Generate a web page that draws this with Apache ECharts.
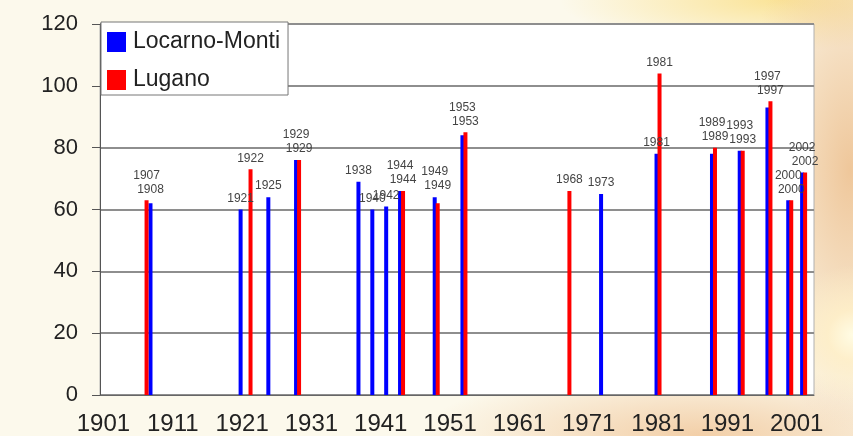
<!DOCTYPE html>
<html>
<head>
<meta charset="utf-8">
<script src="https://cdn.jsdelivr.net/npm/echarts@6/dist/echarts.min.js"></script>
<style>
  html, body { margin: 0; padding: 0; }
  body {
    width: 853px;
    height: 436px;
    background:
      radial-gradient(circle at 853px 335px, rgba(255, 252, 228, 1) 0, rgba(255, 240, 200, 0.8) 25px, rgba(255, 240, 200, 0) 70px),
      radial-gradient(ellipse 110px 260px at 850px 170px, rgba(238, 196, 150, 0.95), rgba(238, 196, 150, 0) 100%),
      radial-gradient(ellipse 280px 70px at 700px 436px, rgba(240, 196, 150, 0.8), rgba(240, 196, 150, 0) 100%),
      radial-gradient(ellipse 220px 50px at 780px 0px, rgba(250, 222, 130, 0.8), rgba(250, 222, 130, 0) 100%),
      #fcf9ec;
  }
  #chart { width: 853px; height: 436px; }
</style>
</head>
<body>
<div id="chart"></div>
<script>
const firstYear = 1901;
const lastYear = 2003;

const locarnoYears = [1908, 1921, 1925, 1929, 1938, 1940, 1942, 1944, 1949, 1953, 1973, 1981, 1989, 1993, 1997, 2000, 2002];
const locarnoValues = [62, 60, 64, 76, 69, 60, 61, 66, 64, 84, 65, 78, 78, 79, 93, 63, 72];

const luganoYears = [1907, 1922, 1929, 1944, 1949, 1953, 1968, 1981, 1989, 1993, 1997, 2000, 2002];
const luganoValues = [63, 73, 76, 66, 62, 85, 66, 104, 80, 79, 95, 63, 72];

const yTicks = [0, 20, 40, 60, 80, 100, 120];

const years = [];
for (let y = firstYear; y <= lastYear; y++) years.push(String(y));

const pxPerUnit = (396 - 24) / 120;
const labelFont = "'Liberation Sans Narrow', 'Liberation Sans', Arial, sans-serif";

// find a bar of the other station close enough for the labels to collide
function neighbour(otherYears, otherValues, year, value) {
  for (let d = 0; d <= 1; d++) {
    for (const y of [year - d, year + d]) {
      const idx = otherYears.indexOf(y);
      if (idx >= 0 && Math.abs(otherValues[idx] - value) <= 6) {
        return { year: y, value: otherValues[idx] };
      }
    }
  }
  return null;
}

function buildSeries(yearList, values, otherYears, otherValues, isBlue) {
  return years.map((label) => {
    const year = Number(label);
    const idx = yearList.indexOf(year);
    if (idx < 0) return null;
    const value = values[idx];
    const other = neighbour(otherYears, otherValues, year, value);
    let distance = 5;
    if (other) {
      distance += Math.max(0, other.value - value) * pxPerUnit;
      // same year: blue label on top; neighbouring years: earlier year on top
      const upper = other.year === year ? isBlue : year < other.year;
      if (upper) distance += 14;
    }
    return { value, label: { distance } };
  });
}

const chart = echarts.init(document.getElementById("chart"), null, { renderer: "canvas" });

const barLabel = {
  show: true,
  position: "top",
  formatter: (p) => p.name,
  fontFamily: labelFont,
  fontSize: 12,
  color: "#444444",
};

chart.setOption({
  animation: false,
  backgroundColor: "transparent",
  color: ["#0000ff", "#ff0000"],
  legend: {
    left: 101,
    top: 22,
    orient: "vertical",
    icon: "rect",
    itemWidth: 19,
    itemHeight: 20,
    itemGap: 12,
    padding: [7, 8, 2, 6],
    backgroundColor: "#ffffff",
    borderColor: "#777777",
    borderWidth: 1,
    textStyle: {
      fontFamily: "'Liberation Sans', Arial, sans-serif",
      fontSize: 23,
      lineHeight: 26,
      color: "#222222",
      padding: [0, 0, 0, 2],
    },
    data: ["Locarno-Monti", "Lugano"],
  },
  grid: {
    left: 100,
    right: 39,
    top: 24,
    bottom: 40,
    show: true,
    backgroundColor: "#ffffff",
    borderColor: "#b0b0b0",
    borderWidth: 1,
  },
  xAxis: {
    type: "category",
    data: years,
    boundaryGap: true,
    axisLine: { lineStyle: { color: "#666666", width: 1 } },
    axisTick: { interval: 4, length: 6, lineStyle: { color: "#666666" } },
    axisLabel: {
      interval: 9,
      margin: 17,
      fontFamily: labelFont,
      fontSize: 24,
      color: "#222222",
    },
  },
  yAxis: {
    type: "value",
    min: yTicks[0],
    max: yTicks[yTicks.length - 1],
    interval: 20,
    axisLine: { show: true, lineStyle: { color: "#555555", width: 1 } },
    axisTick: { show: true, length: 8, lineStyle: { color: "#555555" } },
    axisLabel: {
      margin: 22,
      fontFamily: "'Liberation Sans', Arial, sans-serif",
      fontSize: 22,
      color: "#222222",
    },
    splitLine: { lineStyle: { color: "#8e8e8e", width: 2 } },
  },
  series: [
    {
      name: "Locarno-Monti",
      type: "bar",
      barWidth: 4,
      barGap: "-25%",
      data: buildSeries(locarnoYears, locarnoValues, luganoYears, luganoValues, true),
      label: barLabel,
    },
    {
      name: "Lugano",
      type: "bar",
      barWidth: 4,
      data: buildSeries(luganoYears, luganoValues, locarnoYears, locarnoValues, false),
      label: barLabel,
    },
  ],
});
</script>
</body>
</html>
